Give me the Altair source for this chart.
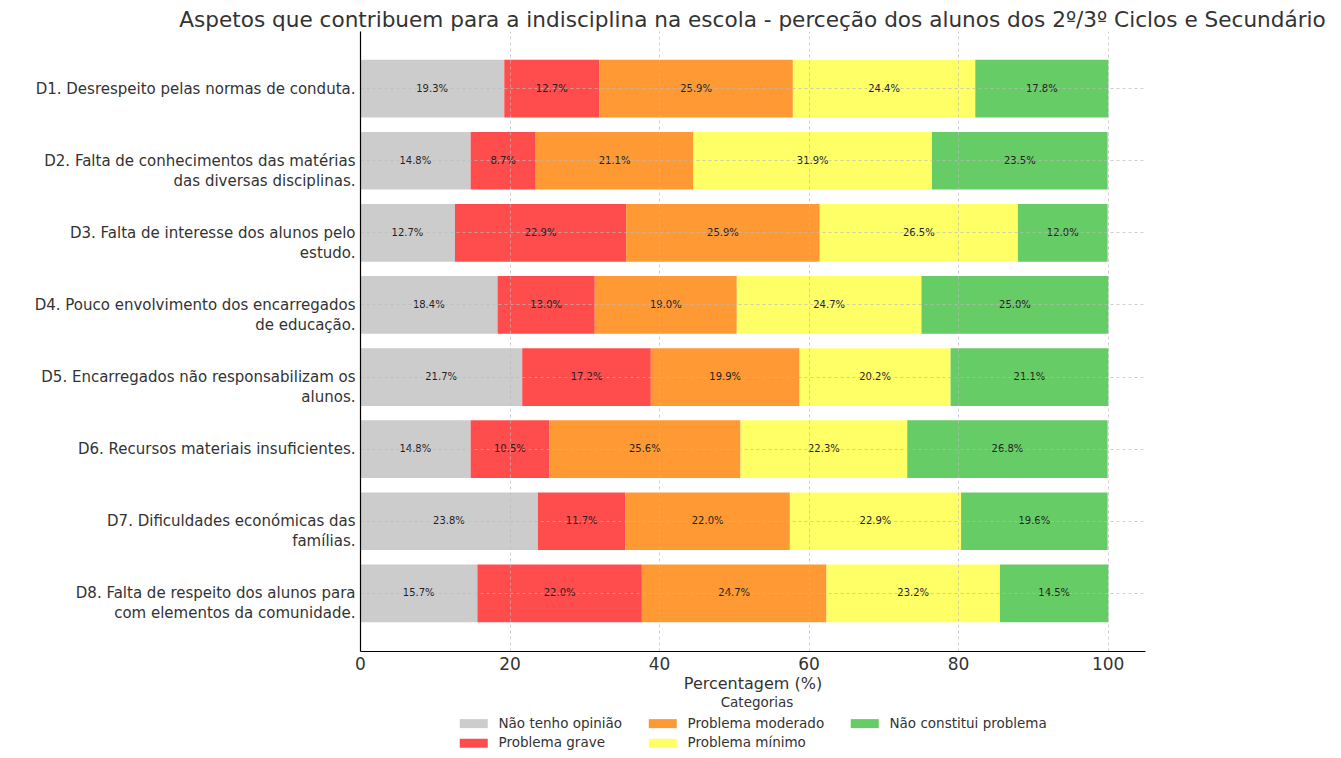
import altair as alt
import pandas as pd

items = [
    "D1. Desrespeito pelas normas de conduta.",
    "D2. Falta de conhecimentos das matérias|das diversas disciplinas.",
    "D3. Falta de interesse dos alunos pelo|estudo.",
    "D4. Pouco envolvimento dos encarregados|de educação.",
    "D5. Encarregados não responsabilizam os|alunos.",
    "D6. Recursos materiais insuficientes.",
    "D7. Dificuldades económicas das|famílias.",
    "D8. Falta de respeito dos alunos para|com elementos da comunidade.",
]
categories = ["Não tenho opinião", "Problema grave", "Problema moderado",
              "Problema mínimo", "Não constitui problema"]
colors = ["#cccccc", "#ff4c4c", "#ff9933", "#ffff66", "#66cc66"]

nao_tenho = [19.3, 14.8, 12.7, 18.4, 21.7, 14.8, 23.8, 15.7]
grave = [12.7, 8.7, 22.9, 13.0, 17.2, 10.5, 11.7, 22.0]
moderado = [25.9, 21.1, 25.9, 19.0, 19.9, 25.6, 22.0, 24.7]
minimo = [24.4, 31.9, 26.5, 24.7, 20.2, 22.3, 22.9, 23.2]
nao_constitui = [17.8, 23.5, 12.0, 25.0, 21.1, 26.8, 19.6, 14.5]

series = [nao_tenho, grave, moderado, minimo, nao_constitui]
rows = []
for ci, (cat, vals) in enumerate(zip(categories, series)):
    for item, v in zip(items, vals):
        rows.append({"item": item, "cat": cat, "value": v, "order": ci})
df = pd.DataFrame(rows)

FONT = "DejaVu Sans"

base = alt.Chart(df).transform_stack(
    stack="value", groupby=["item"], as_=["x0", "x1"],
    sort=[alt.SortField("order", order="ascending")]
).transform_calculate(
    xm="(datum.x0 + datum.x1) / 2",
    label="format(datum.value, '.1f') + '%'"
)

y_enc = alt.Y(
    "item:N", sort=items,
    scale=alt.Scale(paddingInner=0.2, paddingOuter=0.4),
    axis=alt.Axis(
        title=None, labelExpr="split(datum.label, '|')",
        labelFontSize=15, labelColor="#333333", labelLineHeight=20,
        labelLimit=400, labelPadding=5, ticks=False,
        domainColor="#000000", domainWidth=1.2,
        grid=True, bandPosition=0.5, gridDash=[3, 3],
        gridColor="#bbbbbb", gridOpacity=0.7, zindex=1, labelFont=FONT,
    ),
)

bars = base.mark_bar().encode(
    x=alt.X("x0:Q", scale=alt.Scale(domain=[0, 105], nice=False),
            axis=alt.Axis(values=[0, 20, 40, 60, 80, 100], title="Percentagem (%)",
                          labelFontSize=17, labelColor="#333333", labelFont=FONT,
                          labelFlush=False,
                          titleFont=FONT, titleFontSize=16, titleFontWeight="normal",
                          titleColor="#333333", titlePadding=3, labelPadding=5,
                          ticks=False, domainColor="#000000", domainWidth=1.2,
                          grid=True, gridDash=[3, 3], gridColor="#bbbbbb",
                          gridOpacity=0.7, zindex=1)),
    x2="x1:Q",
    y=y_enc,
    color=alt.Color(
        "cat:N",
        scale=alt.Scale(domain=categories, range=colors),
        legend=alt.Legend(
            title="Categorias", orient="none", legendX=107, legendY=665,
            columns=3, titleAnchor="middle", titleFontSize=13.5,
            titleFontWeight="normal", titleColor="#333333", titleFont=FONT,
            labelFontSize=13.5, labelColor="#333333", labelFont=FONT,
            symbolType="M-2.8,-0.9H2.8V0.9H-2.8Z", symbolSize=100,
            symbolStrokeWidth=0, symbolOpacity=1, labelOffset=18,
            columnPadding=25, rowPadding=5, titlePadding=7,
        ),
    ),
)

text = base.mark_text(fontSize=10, color="#222222", font=FONT).encode(
    x=alt.X("xm:Q"),
    y=alt.Y("item:N", sort=items),
    text="label:N",
)

chart = (bars + text).properties(
    width=785, height=620,
    title=alt.TitleParams(
        "Aspetos que contribuem para a indisciplina na escola - perceção dos alunos dos 2º/3º Ciclos e Secundário",
        fontSize=21.6, fontWeight="normal", color="#333333", font=FONT,
        anchor="middle", frame="group", offset=0, dy=1,
    ),
    autosize=alt.AutoSizeParams(type="none"),
    padding={"left": 352, "top": 23, "right": 185, "bottom": 99},
).configure_view(stroke=None)

chart.save("out.html", embed_options={"renderer": "svg", "actions": False})
